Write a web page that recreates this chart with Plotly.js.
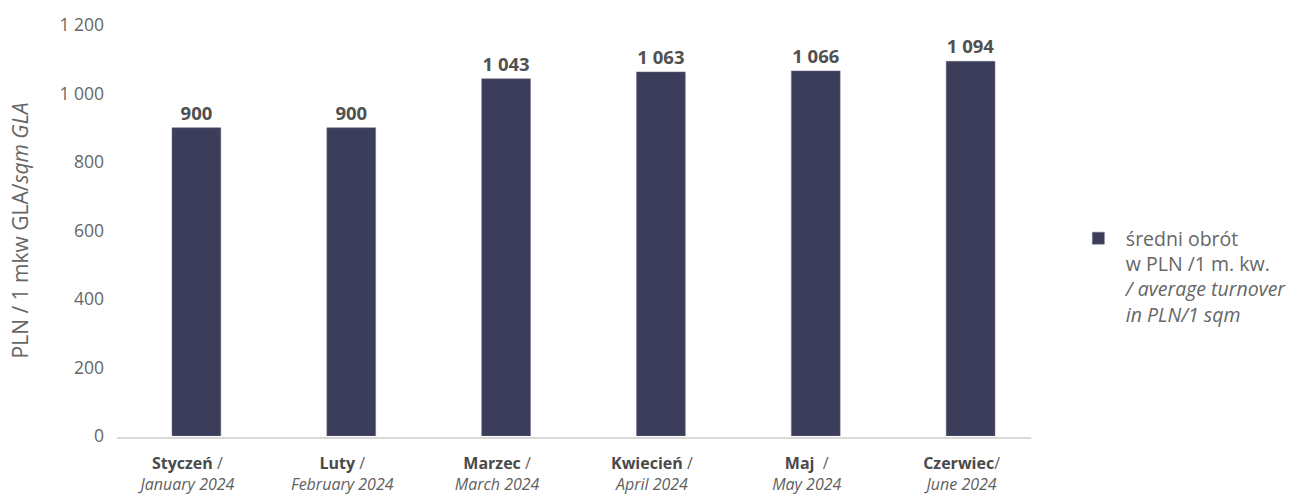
<!DOCTYPE html>
<html>
<head>
<meta charset="utf-8">
<script src="https://cdn.plot.ly/plotly-3.0.1.min.js"></script>
<style>html,body{margin:0;padding:0;background:#fff;}#chart{width:1305px;height:494px;}</style>
</head>
<body>
<div id="chart"></div>
<script>
const monthsPL = ["Styczeń", "Luty", "Marzec", "Kwiecień", "Maj", "Czerwiec"];
const monthsEN = ["January 2024", "February 2024", "March 2024", "April 2024", "May 2024", "June 2024"];
const slashes = [" /", " /", " /", " /", "  /", "/"];
const values = [900, 900, 1043, 1063, 1066, 1094];
const yTicks = [0, 200, 400, 600, 800, 1000, 1200];
const seriesName = "średni obrót<br>w PLN /1 m. kw.<br><i>/ average turnover</i><br><i>in PLN/1 sqm</i>";

const cats = monthsEN.map((m, i) => i);
const tickText = monthsPL.map((m, i) =>
  '<span style="color:#4a4a4a"><b>' + m + '</b></span>' + slashes[i] + '<br><i>' + monthsEN[i] + '</i>');
const fmt = v => String(v).replace(/\B(?=(\d{3})+(?!\d))/g, ' ');

const trace = {
  type: 'bar',
  x: cats,
  y: values,
  name: seriesName,
  width: 0.315,
  marker: {color: '#3b3d5a', line: {color: '#6a6c86', width: 0.5}},
  text: values.map(fmt),
  textposition: 'outside',
  textfont: {family: 'Open Sans', size: 18.5, color: '#505050', weight: 700},
  cliponaxis: false,
  hoverinfo: 'none',
  showlegend: true
};

const layout = {
  width: 1305, height: 494,
  margin: {l: 119, r: 251, t: 25, b: 58},
  paper_bgcolor: '#ffffff', plot_bgcolor: '#ffffff',
  font: {family: 'Open Sans', color: '#666666'},
  separators: ', ',
  bargap: 0,
  xaxis: {
    range: [-0.5, 5.5],
    tickvals: cats, ticktext: tickText,
    showgrid: false, zeroline: false, showline: false,
    ticks: '', ticklabelstandoff: 16, ticklabelshift: -9,
    tickfont: {family: 'Open Sans', size: 16, color: '#5f5f5f'},
    fixedrange: true
  },
  yaxis: {
    range: [0, 1200],
    tickvals: yTicks, ticktext: yTicks.map(fmt),
    showgrid: false, zeroline: false, showline: false,
    ticks: '', ticklabelstandoff: 14,
    tickfont: {family: 'Open Sans', size: 17.5, color: '#666666'},
    title: {text: 'PLN / 1 mkw GLA/<i>sqm GLA</i>', font: {family: 'Open Sans', size: 21, color: '#666666'}, standoff: 25},
    fixedrange: true
  },
  shapes: [{
    type: 'line', xref: 'paper', yref: 'paper',
    x0: -0.002, x1: 0.982, y0: -0.005, y1: -0.005,
    line: {color: '#d9d9d9', width: 2}
  }],
  legend: {
    x: 1.0246, y: 0.528, xanchor: 'left', yanchor: 'top',
    valign: 'top',
    itemwidth: 45,
    font: {family: 'Open Sans', size: 19.5, color: '#666666'},
    bgcolor: 'rgba(0,0,0,0)'
  },
  showlegend: true
};

Plotly.newPlot('chart', [trace], layout, {displayModeBar: false, staticPlot: true});
</script>
</body>
</html>
